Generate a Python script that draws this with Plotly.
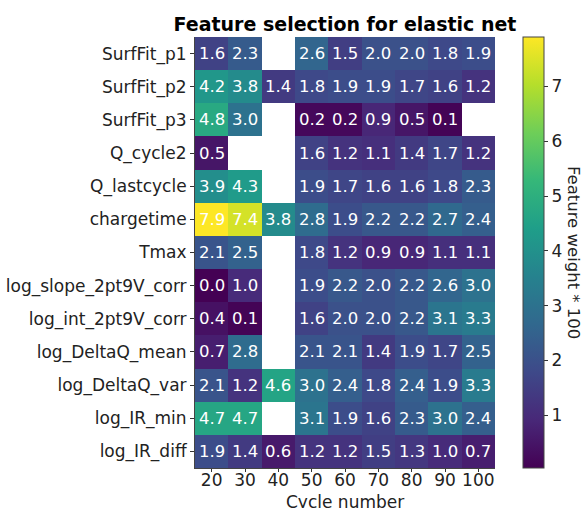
import plotly.graph_objects as go

features = ["SurfFit_p1", "SurfFit_p2", "SurfFit_p3", "Q_cycle2", "Q_lastcycle",
            "chargetime", "Tmax", "log_slope_2pt9V_corr", "log_int_2pt9V_corr",
            "log_DeltaQ_mean", "log_DeltaQ_var", "log_IR_min", "log_IR_diff"]
cycles = [20, 30, 40, 50, 60, 70, 80, 90, 100]
N = None
weights = [
    [1.6, 2.3, N, 2.6, 1.5, 2.0, 2.0, 1.8, 1.9],
    [4.2, 3.8, 1.4, 1.8, 1.9, 1.9, 1.7, 1.6, 1.2],
    [4.8, 3.0, N, 0.2, 0.2, 0.9, 0.5, 0.1, N],
    [0.5, N, N, 1.6, 1.2, 1.1, 1.4, 1.7, 1.2],
    [3.9, 4.3, N, 1.9, 1.7, 1.6, 1.6, 1.8, 2.3],
    [7.9, 7.4, 3.8, 2.8, 1.9, 2.2, 2.2, 2.7, 2.4],
    [2.1, 2.5, N, 1.8, 1.2, 0.9, 0.9, 1.1, 1.1],
    [0.04, 1.0, N, 1.9, 2.2, 2.0, 2.2, 2.6, 3.0],
    [0.4, 0.1, N, 1.6, 2.0, 2.0, 2.2, 3.1, 3.3],
    [0.7, 2.8, N, 2.1, 2.1, 1.4, 1.9, 1.7, 2.5],
    [2.1, 1.2, 4.6, 3.0, 2.4, 1.8, 2.4, 1.9, 3.3],
    [4.7, 4.7, N, 3.1, 1.9, 1.6, 2.3, 3.0, 2.4],
    [1.9, 1.4, 0.6, 1.2, 1.2, 1.5, 1.3, 1.0, 0.7],
]
colorbar_ticks = [1, 2, 3, 4, 5, 6, 7]

FONT = "DejaVu Sans"

fig = go.Figure(go.Heatmap(
    z=weights, x=cycles, y=features,
    colorscale="Viridis", zmin=0.04, zmax=7.9,
    hoverongaps=False,
    colorbar=dict(
        x=1.092, xanchor="left", xpad=0, ypad=0,
        y=0.5, yanchor="middle", len=1, lenmode="fraction",
        thickness=21, thicknessmode="pixels",
        outlinewidth=1, outlinecolor="#444",
        tickvals=colorbar_ticks, ticks="outside", ticklen=4, tickcolor="#333",
        tickfont=dict(family=FONT, size=17, color="#222"),
    ),
))

annotations = []
for i, f in enumerate(features):
    for j, c in enumerate(cycles):
        v = weights[i][j]
        if v is None:
            continue
        annotations.append(dict(x=c, y=f, text=f"{v:.1f}", showarrow=False,
                                font=dict(family=FONT, size=16.5, color="white")))
annotations.append(dict(xref="paper", yref="paper", x=1.262, y=0.5,
                        text="Feature weight * 100", textangle=90, showarrow=False,
                        xanchor="center", yanchor="middle",
                        font=dict(family=FONT, size=16.5, color="#222")))
annotations.append(dict(xref="paper", yref="paper", x=0.5, y=-(491 - 468) / 431,
                        text="Cycle number", showarrow=False,
                        xanchor="center", yanchor="top", borderpad=0,
                        font=dict(family=FONT, size=17, color="#222")))

fig.update_layout(
    width=587, height=508,
    margin=dict(l=195, r=92, t=37, b=40),
    paper_bgcolor="white", plot_bgcolor="white",
    font=dict(family=FONT, color="#222"),
    title=dict(text="<b>Feature selection for elastic net</b>", x=0.5, xref="paper",
               xanchor="center", y=1 - 24 / 508, yanchor="middle",
               font=dict(family=FONT, size=19, color="black")),
    xaxis=dict(range=[15, 105], tickvals=cycles, showline=True, linecolor="#444",
               linewidth=1, ticks="outside", ticklen=3, tickcolor="#333",
               ticklabelstandoff=-6,
               showgrid=False, zeroline=False, tickangle=0, automargin=False,
               tickfont=dict(family=FONT, size=17, color="#222")),
    yaxis=dict(type="category", autorange="reversed", showline=True, linecolor="#444",
               linewidth=1, ticks="outside", ticklen=4, tickcolor="#333", showgrid=False,
               automargin=False,
               tickfont=dict(family=FONT, size=17, color="#222")),
    annotations=annotations,
)

fig.write_html("out.html")
